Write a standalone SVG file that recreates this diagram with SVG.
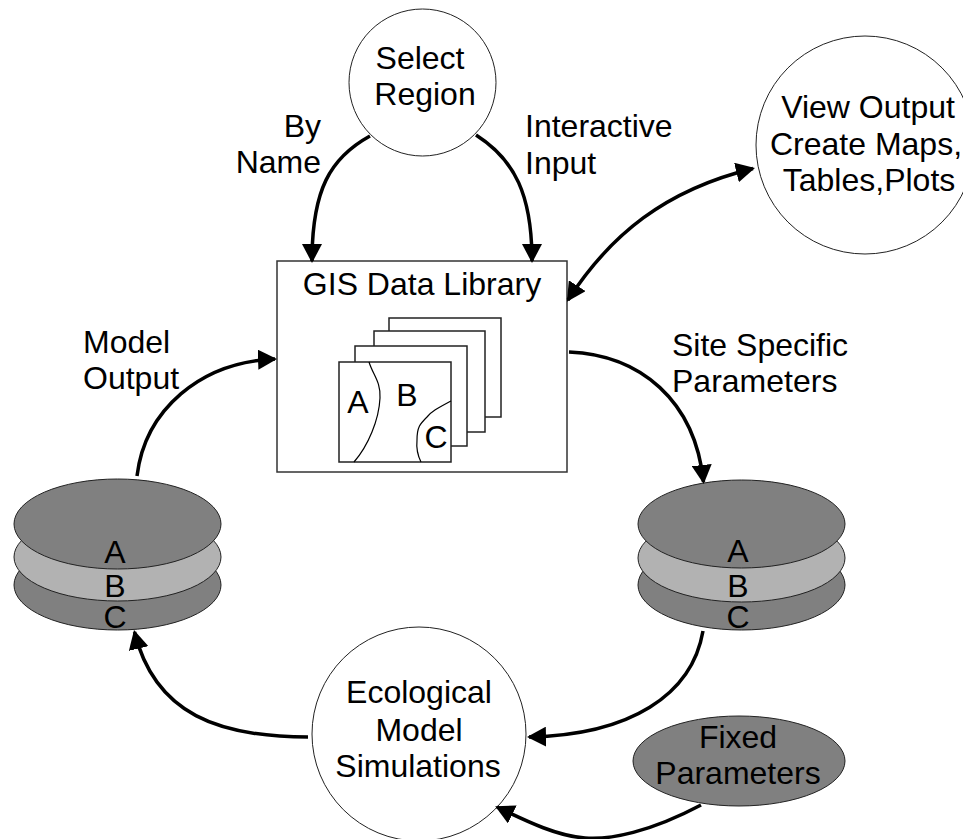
<svg xmlns="http://www.w3.org/2000/svg" width="963" height="839" viewBox="0 0 963 839">
<style>
text{font-family:"Liberation Sans",Arial,sans-serif;font-size:32px;fill:#000;text-anchor:middle}
text.st{text-anchor:start}
text.e{text-anchor:end}
.n{fill:#fff;stroke:#222;stroke-width:1}
.d{fill:#808080;stroke:#222;stroke-width:1}
.l{fill:#b2b2b2;stroke:#222;stroke-width:1}
.b{fill:#fff;stroke:#333;stroke-width:1.5}
.s{fill:#fff;stroke:#222;stroke-width:1.5}
.c{fill:none;stroke:#000;stroke-width:3.5}
.t{fill:none;stroke:#000;stroke-width:1.2}
</style>
<defs>
<marker id="a" markerUnits="userSpaceOnUse" markerWidth="19" markerHeight="20" refX="17" refY="10" orient="auto-start-reverse" viewBox="0 0 19 20"><path d="M0 0L19 10L0 20Z" fill="#000"/></marker>
</defs>
<rect width="963" height="839" fill="#fff"/>
<g id="select-region"><circle class="n" cx="422.5" cy="82.500" r="73.500"/><text x="420" y="69">Select</text><text x="425" y="105">Region</text></g>
<g id="view-output"><circle class="n" cx="865" cy="145" r="109"/><text x="868" y="118">View Output</text><text x="866" y="155">Create Maps,</text><text x="869" y="191">Tables,Plots</text></g>
<g id="gis-library">
<rect class="b" x="277" y="261" width="290" height="211"/>
<text x="422" y="295">GIS Data Library</text>
<rect class="s" x="389" y="318" width="112" height="99"/>
<rect class="s" x="374" y="331" width="111" height="101"/>
<rect class="s" x="355" y="346" width="112" height="100"/>
<rect class="s" x="339" y="362" width="112" height="100"/>
<path class="t" d="M369 362C373 375 381 382 380 398C379 420 368 446 354 462"/>
<path class="t" d="M451 401C438 408 432 411 427 417C420 424 417 427 417 440C416 450 418 456 421 462"/>
<text x="358" y="413">A</text><text x="407" y="406">B</text><text x="436" y="448">C</text>
</g>
<g id="stack-left">
<ellipse class="d" cx="117.500" cy="585" rx="103.500" ry="45"/>
<ellipse class="l" cx="117.500" cy="557" rx="103.500" ry="44"/>
<ellipse class="d" cx="117.500" cy="524" rx="103.500" ry="45"/>
<text x="115" y="563">A</text><text x="115" y="597">B</text><text x="115" y="628">C</text>
</g>
<g id="stack-right">
<ellipse class="d" cx="741.500" cy="585" rx="103.500" ry="45"/>
<ellipse class="l" cx="741.500" cy="558" rx="103.500" ry="44"/>
<ellipse class="d" cx="741.500" cy="524" rx="103.500" ry="44"/>
<text x="738" y="562">A</text><text x="738" y="597">B</text><text x="738" y="628">C</text>
</g>
<g id="ecological"><circle class="n" cx="419" cy="734" r="107"/><text x="419" y="703">Ecological</text><text x="419" y="741">Model</text><text x="418" y="777">Simulations</text></g>
<g id="fixed"><ellipse class="d" cx="739" cy="761" rx="106" ry="45"/><text x="738" y="748">Fixed</text><text x="738" y="784">Parameters</text></g>
<g id="labels">
<text class="e" x="321" y="137">By</text><text class="e" x="321" y="173">Name</text>
<text class="st" x="525" y="137">Interactive</text><text class="st" x="525" y="174">Input</text>
<text class="st" x="672" y="356">Site Specific</text><text class="st" x="672" y="392">Parameters</text>
<text class="st" x="83" y="353">Model</text><text class="st" x="83" y="389">Output</text>
</g>
<g id="connectors">
<path class="c" marker-end="url(#a)" d="M370 136C330 158 312 190 312 261"/>
<path class="c" marker-end="url(#a)" d="M476 135C515 160 532 195 532 261"/>
<path class="c" marker-start="url(#a)" marker-end="url(#a)" d="M568 300C610 235 665 190 753 168.500"/>
<path class="c" marker-end="url(#a)" d="M569 352C640 355 695 400 703.500 482"/>
<path class="c" marker-end="url(#a)" d="M703 631C692 695 630 735 529 737"/>
<path class="c" marker-end="url(#a)" d="M701 805C650 832 610 840 585 838C558 836 530 823 497 807"/>
<path class="c" marker-end="url(#a)" d="M308 737C220 737 155 715 134.500 632"/>
<path class="c" marker-end="url(#a)" d="M137 476C145 410 200 362 275 359"/>
</g>
</svg>
